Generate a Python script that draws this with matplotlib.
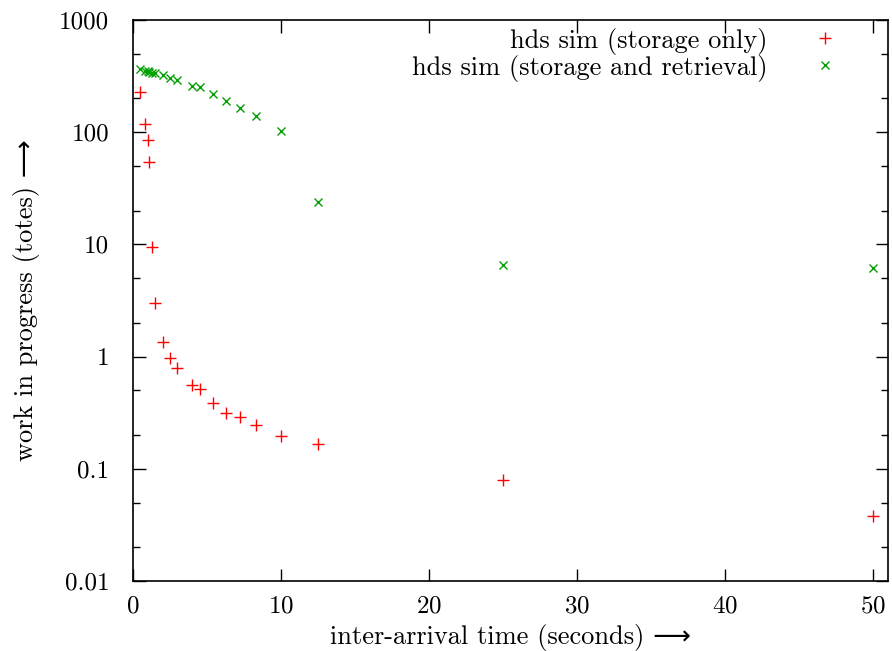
import matplotlib
matplotlib.use("Agg")
import matplotlib.pyplot as plt
from matplotlib.ticker import LogLocator, FixedLocator, FuncFormatter

# inter-arrival time (seconds)
arrival_time = [0.5, 0.8, 1.0, 1.1, 1.3, 1.5, 2.0, 2.5, 3.0, 4.0, 4.5,
                5.4, 6.3, 7.2, 8.3, 10.0, 12.5, 25.0, 50.0]

# work in progress (totes)
wip_storage = [228, 119, 85, 54, 9.4, 3.0, 1.34, 0.97, 0.79, 0.56, 0.515,
               0.386, 0.314, 0.291, 0.245, 0.196, 0.166, 0.080, 0.038]
wip_storage_retrieval = [365, 353, 350, 343, 338, 336, 321, 301, 291, 256,
                         251, 220, 190, 165, 138, 102, 23.7, 6.6, 6.2]

series_labels = ["hds sim (storage only)",
                 "hds sim (storage and retrieval)"]
x_ticks = [0, 10, 20, 30, 40, 50]
y_ticks = [0.01, 0.1, 1, 10, 100, 1000]

plt.rcParams['font.family'] = ['cmr10', 'DejaVu Sans']
plt.rcParams['axes.formatter.use_mathtext'] = True
plt.rcParams['font.size'] = 19

fig = plt.figure(figsize=(8.92, 6.51), dpi=100)
ax = fig.add_axes([0.1491, 0.1075, 0.8464, 0.8618])

ax.plot(arrival_time, wip_storage, '+', color='#ff0000', markersize=9,
        markeredgewidth=1.0, label=series_labels[0])
ax.plot(arrival_time, wip_storage_retrieval, 'x', color='#00a000',
        markersize=6, markeredgewidth=1.0, label=series_labels[1])

ax.set_yscale('log')
ax.set_xlim(0, 51)
ax.set_ylim(0.01, 1000)

ax.xaxis.set_major_locator(FixedLocator(x_ticks))
ax.yaxis.set_major_locator(FixedLocator(y_ticks))
ax.yaxis.set_minor_locator(LogLocator(base=10, subs=(2, 5), numticks=20))
ax.yaxis.set_major_formatter(FuncFormatter(lambda v, p: f"{v:g}"))
ax.yaxis.set_minor_formatter(FuncFormatter(lambda v, p: ""))

ax.tick_params(which='both', direction='in', top=True, right=True,
               width=1.0, labelsize=18)
ax.tick_params(which='major', length=9)
ax.tick_params(which='minor', length=5)
ax.tick_params(axis='x', which='major', pad=10)
ax.tick_params(axis='y', which='major', pad=17)
for spine in ax.spines.values():
    spine.set_linewidth(1.2)

ax.set_xlabel("inter-arrival time (seconds) \u27f6", labelpad=5)
ax.set_ylabel("work in progress (totes) \u27f6", labelpad=14)

ax.legend(loc='upper right', bbox_to_anchor=(0.966, 1.005), frameon=False,
          markerfirst=False, handletextpad=1.2, borderaxespad=0.0,
          labelspacing=0.0, handlelength=2.0, fontsize=19)

fig.savefig("out.png", dpi=100)
